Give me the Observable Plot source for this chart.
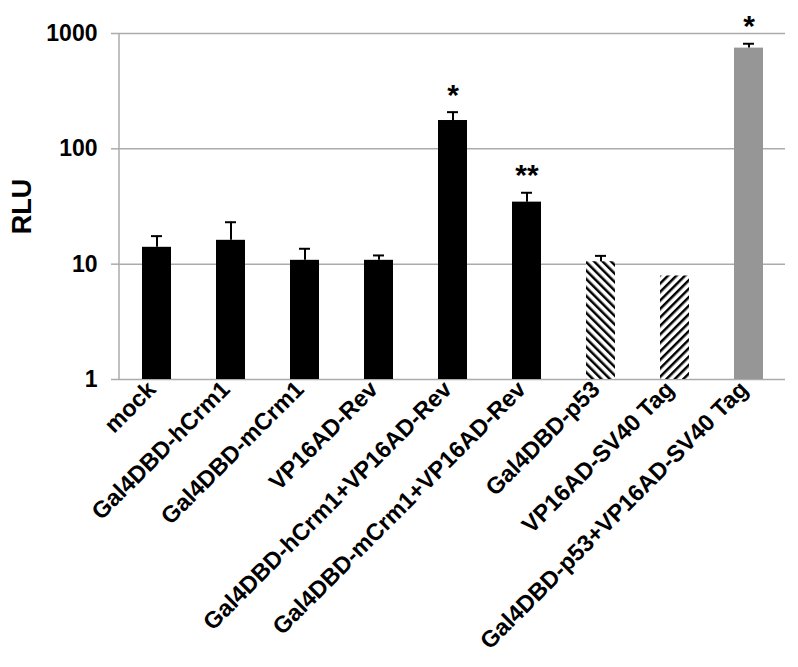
<!DOCTYPE html>
<html>
<head>
<meta charset="utf-8">
<script src="https://cdn.jsdelivr.net/npm/d3@7"></script>
<script src="https://cdn.jsdelivr.net/npm/@observablehq/plot@0.6"></script>
<style>
  html, body { margin: 0; padding: 0; background: #fff; }
  #chart { width: 798px; height: 667px; }
</style>
</head>
<body>
<div id="chart"></div>
<script>
// ---- data ----
const categories = [
  "mock",
  "Gal4DBD-hCrm1",
  "Gal4DBD-mCrm1",
  "VP16AD-Rev",
  "Gal4DBD-hCrm1+VP16AD-Rev",
  "Gal4DBD-mCrm1+VP16AD-Rev",
  "Gal4DBD-p53",
  "VP16AD-SV40 Tag",
  "Gal4DBD-p53+VP16AD-SV40 Tag"
];
const values = [14.0, 16.1, 10.8, 10.8, 176, 34.5, 10.5, 7.9, 747];
const errorTops = [17.5, 23.1, 13.6, 11.9, 208, 41.6, 11.8, null, 815];
const stars = ["", "", "", "", "*", "**", "", "", "*"];
const yTicks = [1, 10, 100, 1000];
const yLabel = "RLU";

// ---- table built from the arrays ----
const data = categories.map((c, i) => ({
  category: c, value: values[i], err: errorTops[i], star: stars[i], i
}));

// styles kept apart from the data
const fillFor = (i) => i === 6 ? "url(#hatchBack)" : i === 7 ? "url(#hatchFwd)" : i === 8 ? "#969696" : "#000";
const black = data.filter(d => d.i < 6);
const hatchB = data.filter(d => d.i === 6);
const hatchF = data.filter(d => d.i === 7);
const gray = data.filter(d => d.i === 8);
const withErr = data.filter(d => d.err != null);
const withStar = data.filter(d => d.star);

const font = "'Liberation Sans', Arial, Helvetica, sans-serif";
const gridColor = "#ababab";

// vertical axis line at the left of the frame, spanning the y domain
function leftAxisLine(index, scales, values, dims) {
  const ns = "http://www.w3.org/2000/svg";
  const line = document.createElementNS(ns, "line");
  const x = dims.marginLeft;
  line.setAttribute("x1", x);
  line.setAttribute("x2", x);
  line.setAttribute("y1", scales.y(yTicks[yTicks.length - 1]));
  line.setAttribute("y2", scales.y(yTicks[0]));
  line.setAttribute("stroke", gridColor);
  line.setAttribute("stroke-width", 1.5);
  return line;
}

const chart = Plot.plot({
  width: 798,
  height: 667,
  marginLeft: 119,
  marginRight: 13,
  marginTop: 33,
  marginBottom: 288,
  style: { fontFamily: font, background: "#fff", color: "#000" },
  x: { domain: categories, paddingInner: 0.61, paddingOuter: 0.305, label: null },
  y: { type: "log", domain: [1, 1000], label: null },
  marks: [
    Plot.ruleY(yTicks, { stroke: gridColor, strokeWidth: 1.5 }),
    leftAxisLine,
    Plot.axisY({
      ticks: yTicks, tickFormat: d => String(d), tickSize: 8, tickPadding: 14,
      stroke: gridColor, strokeWidth: 1.5, fill: "#000",
      fontSize: 23, fontWeight: "bold", label: null
    }),
    Plot.axisX({
      tickSize: 0, tickRotate: -45, tickPadding: 6, dx: -5,
      fontSize: 23.5, fontWeight: "bold", fill: "#000", label: null
    }),
    Plot.barY(black, { x: "category", y1: 1, y2: "value", fill: "#000" }),
    Plot.barY(hatchB, { x: "category", y1: 1, y2: "value", fill: fillFor(6) }),
    Plot.barY(hatchF, { x: "category", y1: 1, y2: "value", fill: fillFor(7) }),
    Plot.barY(gray, { x: "category", y1: 1, y2: "value", fill: fillFor(8) }),
    Plot.ruleX(withErr, { x: "category", y1: "value", y2: "err", stroke: "#000", strokeWidth: 2 }),
    Plot.tickY(withErr, { x: "category", y: "err", stroke: "#000", strokeWidth: 2, insetLeft: 9, insetRight: 9 }),
    Plot.text(withStar, {
      x: "category", y: "err", text: "star", dy: -17,
      fontSize: 30, fontWeight: "bold", fill: "#000"
    }),
    Plot.text([yLabel], {
      frameAnchor: "left", textAnchor: "middle", rotate: -90, dx: -97,
      fontSize: 27, fontWeight: "bold", fill: "#000"
    })
  ]
});

// hatch pattern definitions
const ns = "http://www.w3.org/2000/svg";
const defs = document.createElementNS(ns, "defs");
defs.innerHTML = `
  <pattern id="hatchBack" patternUnits="userSpaceOnUse" width="6" height="6" patternTransform="rotate(-45)">
    <rect width="6" height="6" fill="#fff"/>
    <line x1="0" y1="0" x2="0" y2="6" stroke="#000" stroke-width="5"/>
  </pattern>
  <pattern id="hatchFwd" patternUnits="userSpaceOnUse" width="6" height="6" patternTransform="rotate(45)">
    <rect width="6" height="6" fill="#fff"/>
    <line x1="0" y1="0" x2="0" y2="6" stroke="#000" stroke-width="5"/>
  </pattern>`;
chart.insertBefore(defs, chart.firstChild);

document.getElementById("chart").appendChild(chart);
</script>
</body>
</html>
